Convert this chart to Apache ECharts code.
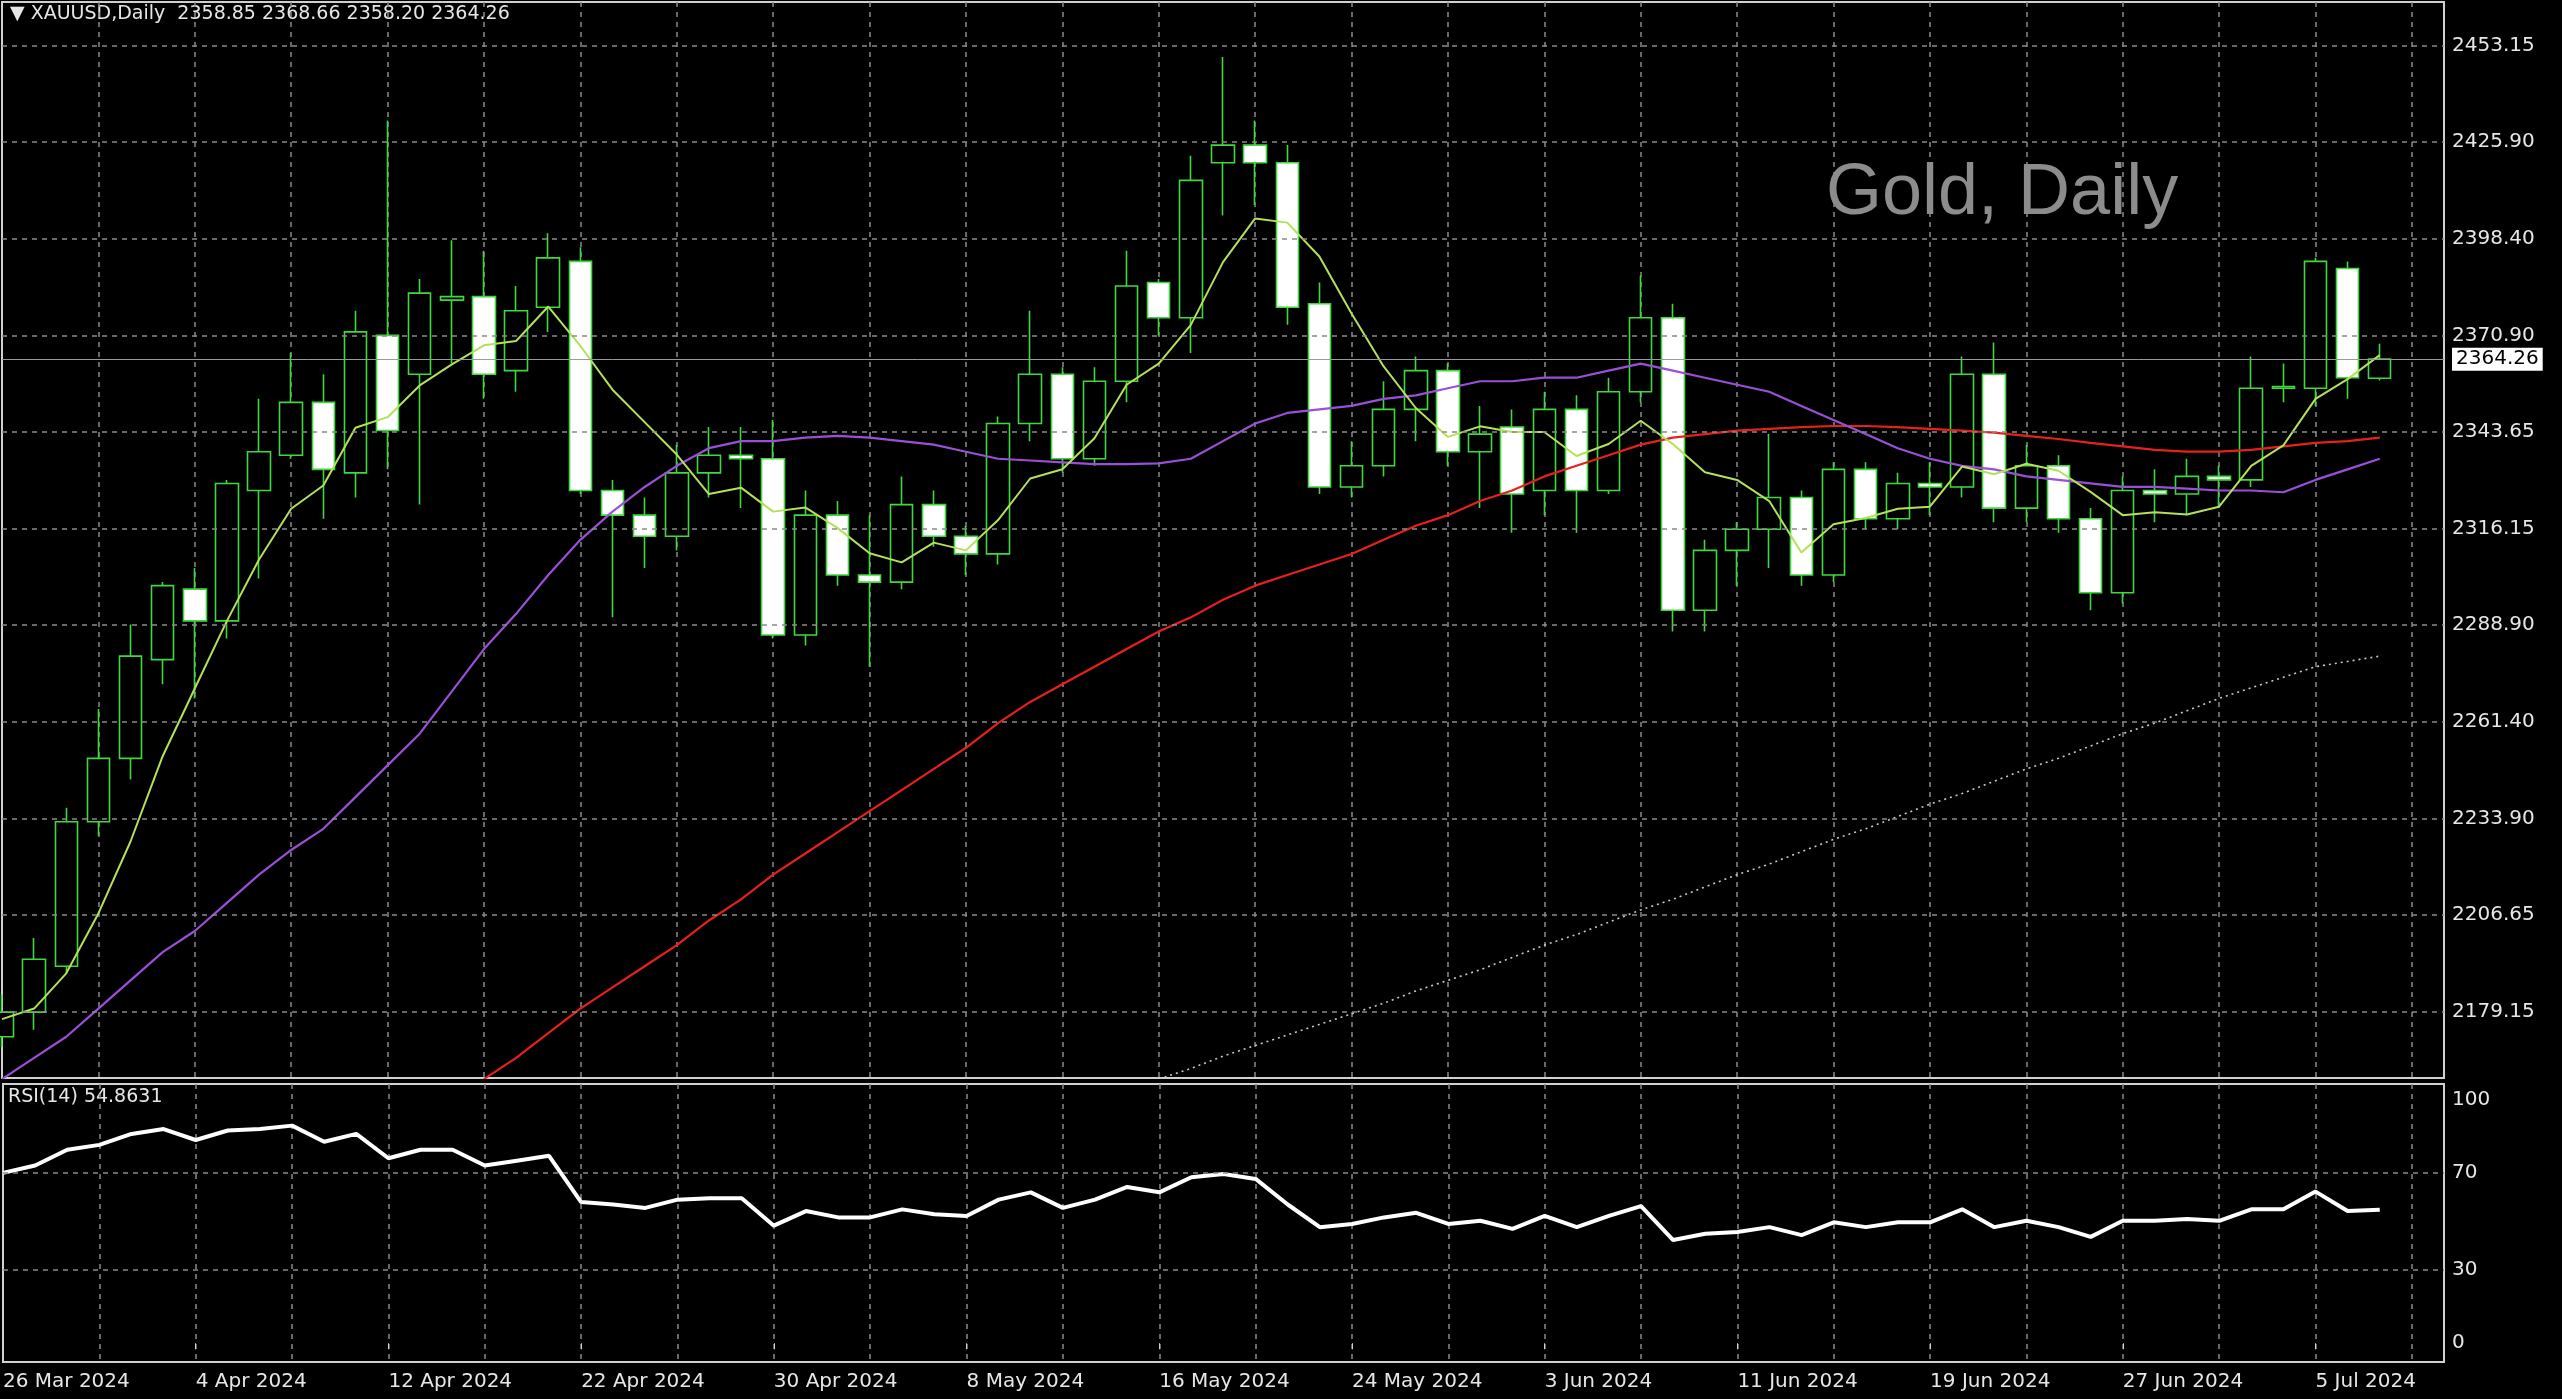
<!DOCTYPE html>
<html>
<head>
<meta charset="utf-8">
<script src="https://cdn.jsdelivr.net/npm/echarts@6/dist/echarts.min.js"></script>
<style>
    * { margin: 0; padding: 0; }
    html, body { background: #000; }
    #main { width: 2562px; height: 1399px; }
</style>
</head>
<body>
<div id="main"></div>
<script>
    // bar dates (daily, weekdays, no Good Friday)
    var dates = [
        '26 Mar 2024', '27 Mar 2024', '28 Mar 2024', '1 Apr 2024', '2 Apr 2024', '3 Apr 2024', '4 Apr 2024', '5 Apr 2024',
        '8 Apr 2024', '9 Apr 2024', '10 Apr 2024', '11 Apr 2024', '12 Apr 2024', '15 Apr 2024', '16 Apr 2024', '17 Apr 2024',
        '18 Apr 2024', '19 Apr 2024', '22 Apr 2024', '23 Apr 2024', '24 Apr 2024', '25 Apr 2024', '26 Apr 2024', '29 Apr 2024',
        '30 Apr 2024', '1 May 2024', '2 May 2024', '3 May 2024', '6 May 2024', '7 May 2024', '8 May 2024', '9 May 2024',
        '10 May 2024', '13 May 2024', '14 May 2024', '15 May 2024', '16 May 2024', '17 May 2024', '20 May 2024', '21 May 2024',
        '22 May 2024', '23 May 2024', '24 May 2024', '27 May 2024', '28 May 2024', '29 May 2024', '30 May 2024', '31 May 2024',
        '3 Jun 2024', '4 Jun 2024', '5 Jun 2024', '6 Jun 2024', '7 Jun 2024', '10 Jun 2024', '11 Jun 2024', '12 Jun 2024',
        '13 Jun 2024', '14 Jun 2024', '17 Jun 2024', '18 Jun 2024', '19 Jun 2024', '20 Jun 2024', '21 Jun 2024', '24 Jun 2024',
        '25 Jun 2024', '26 Jun 2024', '27 Jun 2024', '28 Jun 2024', '1 Jul 2024', '2 Jul 2024', '3 Jul 2024', '4 Jul 2024',
        '5 Jul 2024', '8 Jul 2024', '9 Jul 2024'
    ];
    // empty space at the right side of the chart
    var padBars = ['', ''];

    // [open, close, low, high]
    var ohlc = [
        [2172, 2179, 2169, 2184], [2179, 2194, 2174, 2200], [2192, 2233, 2190, 2237], [2233, 2251, 2229, 2265],
        [2251, 2280, 2245, 2289], [2279, 2300, 2272, 2301], [2299, 2290, 2268, 2305], [2290, 2329, 2285, 2330],
        [2327, 2338, 2302, 2353], [2337, 2352, 2336, 2366], [2352, 2333, 2319, 2360], [2332, 2372, 2325, 2378],
        [2371, 2344, 2333, 2432], [2360, 2383, 2323, 2387], [2381, 2382, 2363, 2398], [2382, 2360, 2353, 2395],
        [2361, 2378, 2355, 2385], [2379, 2393, 2372, 2400], [2392, 2327, 2326, 2396], [2327, 2320, 2291, 2330],
        [2320, 2314, 2305, 2325], [2314, 2332, 2310, 2340], [2332, 2337, 2325, 2345], [2337, 2336, 2322, 2345],
        [2336, 2286, 2285, 2347], [2286, 2320, 2283, 2327], [2320, 2303, 2300, 2324], [2303, 2301, 2277, 2320],
        [2301, 2323, 2299, 2331], [2323, 2314, 2311, 2327], [2314, 2309, 2303, 2317], [2309, 2346, 2306, 2348],
        [2346, 2360, 2341, 2378], [2360, 2336, 2332, 2362], [2336, 2358, 2334, 2362], [2358, 2385, 2352, 2395],
        [2386, 2376, 2371, 2387], [2376, 2415, 2366, 2422], [2420, 2425, 2405, 2450], [2425, 2420, 2408, 2432],
        [2420, 2379, 2374, 2425], [2380, 2328, 2326, 2386], [2328, 2334, 2325, 2341], [2334, 2350, 2331, 2358],
        [2350, 2361, 2341, 2365], [2361, 2338, 2334, 2363], [2338, 2343, 2322, 2351], [2345, 2326, 2315, 2350],
        [2327, 2350, 2320, 2355], [2350, 2327, 2315, 2354], [2327, 2355, 2326, 2359], [2355, 2376, 2352, 2388],
        [2376, 2293, 2287, 2380], [2293, 2310, 2287, 2313], [2310, 2316, 2300, 2318], [2316, 2325, 2305, 2343],
        [2325, 2303, 2300, 2327], [2303, 2333, 2301, 2335], [2333, 2319, 2316, 2335], [2319, 2329, 2316, 2332],
        [2329, 2328, 2320, 2335], [2328, 2360, 2325, 2365], [2360, 2322, 2318, 2369], [2322, 2334, 2318, 2340],
        [2334, 2319, 2315, 2337], [2319, 2298, 2293, 2322], [2298, 2327, 2295, 2331], [2327, 2326, 2318, 2333],
        [2326, 2331, 2320, 2336], [2331, 2330, 2322, 2334], [2330, 2356, 2328, 2365], [2356, 2356.5, 2352, 2363],
        [2356, 2392, 2351, 2393], [2390, 2359, 2353, 2392], [2358.85, 2364.26, 2358.20, 2368.66]
    ];

    // fast MA (yellow-green)
    var maFast = [
        2177, 2180, 2190, 2207, 2227.4, 2251.6, 2270.8, 2290, 2307.4, 2321.8, 2328.4, 2344.8, 2347.8, 2356.8, 2362.8,
        2368.2, 2369.4, 2379.2, 2368, 2355.6, 2346.4, 2337.2, 2326, 2327.8, 2321, 2322.2, 2316.4, 2309.2, 2306.6, 2312.2,
        2310, 2318.6, 2330.4, 2333, 2341.8, 2357, 2363, 2374, 2391.8, 2404.2, 2403, 2393.4, 2377.2, 2362.2, 2350.4,
        2342.2, 2345.2, 2343.6, 2343.6, 2336.8, 2340.2, 2346.8, 2340.2, 2332.2, 2330, 2324, 2309.4, 2317.4, 2319.2,
        2321.8, 2322.4, 2333.8, 2331.6, 2334.6, 2332.6, 2326.6, 2320, 2320.8, 2320.2, 2322.4, 2334, 2339.8, 2353,
        2358.6, 2365.4
    ];
    // middle MA (purple)
    var maMid = [
        2160, 2166, 2172, 2180, 2188, 2196, 2202, 2210, 2218, 2225, 2231, 2240, 2249, 2258, 2270, 2282, 2292, 2303,
        2313, 2321, 2328, 2334, 2339, 2341, 2341, 2342, 2342.5, 2342, 2341, 2340, 2338, 2336, 2335.5, 2335, 2334.5,
        2334.5, 2334.7, 2336, 2341, 2346, 2349, 2350, 2351, 2353, 2354, 2356, 2358, 2358, 2359, 2359, 2361, 2363,
        2361, 2359, 2357, 2355, 2351, 2347, 2343, 2339, 2336, 2334, 2333, 2331, 2330, 2329, 2328, 2328, 2327.5, 2327,
        2327, 2326.5, 2330, 2333, 2336
    ];
    // slow MA (red), starts at bar 15
    var maSlow = [
        '-', '-', '-', '-', '-', '-', '-', '-', '-', '-', '-', '-', '-', '-', '-',
        2160, 2166, 2173, 2180, 2186, 2192, 2198, 2205, 2211, 2218, 2224, 2230, 2236, 2242, 2248, 2254, 2261, 2267,
        2272, 2277, 2282, 2287, 2291, 2296, 2300, 2303, 2306, 2309, 2313, 2317, 2320, 2324, 2327, 2331, 2334, 2337,
        2340, 2342, 2343, 2344, 2344.5, 2345, 2345.3, 2345.3, 2345, 2344.5, 2344, 2343.4, 2342.5, 2341.6, 2340.5,
        2339.5, 2338.5, 2338, 2338, 2338.5, 2339.5, 2340.5, 2341, 2342
    ];
    // long MA (dotted), starts at bar 36
    var maLong = [
        '-', '-', '-', '-', '-', '-', '-', '-', '-', '-', '-', '-', '-', '-', '-', '-', '-', '-',
        '-', '-', '-', '-', '-', '-', '-', '-', '-', '-', '-', '-', '-', '-', '-', '-', '-', '-',
        2160, 2163, 2166.5, 2169.5, 2172.5, 2175.5, 2178.5, 2181.5, 2185, 2188, 2191, 2194.5, 2198, 2201, 2204.5,
        2208, 2211, 2214.5, 2218, 2221, 2224.5, 2228, 2231, 2234.5, 2238, 2241, 2244.5, 2248, 2251, 2254.5, 2258,
        2261, 2264.5, 2268, 2271, 2274, 2277, 2278.5, 2280
    ];
    // RSI(14)
    var rsi = [
        70, 73, 79.5, 81.5, 86, 88, 83.5, 87.4, 88, 89.4, 82.8, 86, 76, 79.5, 79.5, 73, 75, 77, 58, 57, 55.6, 59,
        59.6, 59.6, 48.3, 54.3, 51.7, 51.7, 55, 53, 52.3, 59, 62, 55.6, 59, 64.2, 62, 68.2, 69.5, 67.5, 57, 47.7,
        49, 51.7, 53.6, 49, 50.3, 47, 52.3, 47.7, 52.3, 56.3, 42.4, 45, 45.7, 47.7, 44.4, 49.7, 47.7, 49.7, 49.7,
        55, 47.7, 50.3, 47.7, 43.7, 50.3, 50.3, 51, 50.3, 55, 55, 62.3, 54.3, 54.86
    ];

    var priceTicks = [2179.15, 2206.65, 2233.90, 2261.40, 2288.90, 2316.15, 2343.65, 2370.90, 2398.40, 2425.90, 2453.15];
    var rsiTicks = [100, 70, 30, 0];
    var rsiLevels = [70, 30];
    var lastPrice = 2364.26;

    var cats = dates.concat(padBars);
    var gridColor = '#8a8a8a';
    var textColor = '#e6e6e6';
    var font = 'DejaVu Sans';

    var priceLines = priceTicks.map(function (v) {
        return {yAxis: v, label: {formatter: v.toFixed(2)}};
    });
    priceLines.push({
        yAxis: lastPrice,
        lineStyle: {type: 'solid', color: '#9a9a9a', width: 1},
        label: {formatter: lastPrice.toFixed(2), color: '#000', backgroundColor: '#fff', padding: [2, 4, 1, 4],
            borderColor: '#000', borderWidth: 1}
    });

    var rsiLines = rsiTicks.map(function (v) {
        var item = {yAxis: v, label: {formatter: String(v)}};
        if (rsiLevels.indexOf(v) < 0) item.lineStyle = {color: 'rgba(0,0,0,0)'};
        return item;
    });

    var myChart = echarts.init(document.getElementById('main'));
    var option = {
        backgroundColor: '#000',
        animation: false,
        textStyle: {fontFamily: font},
        grid: [
            {left: 2, top: 2, width: 2442, height: 1076, show: true, borderColor: '#d0d0d0', borderWidth: 2},
            {left: 2, top: 1084, width: 2442, height: 278, show: true, borderColor: '#d0d0d0', borderWidth: 2}
        ],
        xAxis: [
            {
                type: 'category', gridIndex: 0, data: cats, boundaryGap: false,
                axisLine: {show: false}, axisTick: {show: false}, axisLabel: {show: false},
                splitLine: {show: true, interval: function (i) { return i > 0 && i % 3 === 0; },
                    lineStyle: {color: gridColor, type: [5, 5], width: 1.5}}
            },
            {
                type: 'category', gridIndex: 1, data: cats, boundaryGap: false,
                axisLine: {show: false},
                axisTick: {show: true, length: 6, interval: function (i) { return i > 0 && i % 6 === 0; },
                    lineStyle: {color: '#d0d0d0'}},
                axisLabel: {
                    interval: function (i, v) { return i % 6 === 0 && v !== ''; },
                    color: textColor, fontSize: 20, align: 'left', margin: 10, fontFamily: font
                },
                splitLine: {show: true, interval: function (i) { return i > 0 && i % 3 === 0; },
                    lineStyle: {color: gridColor, type: [5, 5], width: 1.5}}
            }
        ],
        yAxis: [
            {type: 'value', gridIndex: 0, position: 'right', min: 2160.3, max: 2465.6, scale: true,
                axisLine: {show: false}, axisTick: {show: false}, axisLabel: {show: false}, splitLine: {show: false}},
            {type: 'value', gridIndex: 1, position: 'right', min: -7.7, max: 106.5,
                axisLine: {show: false}, axisTick: {show: false}, axisLabel: {show: false}, splitLine: {show: false}}
        ],
        graphic: [
            {type: 'text', left: 10, top: 5, style: {text: '\u25BC XAUUSD,Daily  2358.85 2368.66 2358.20 2364.26',
                fill: textColor, font: '19px "DejaVu Sans"'}},
            {type: 'text', left: 1826, top: 158, style: {text: 'Gold, Daily', fill: '#8c8c8c',
                font: '72px "Liberation Sans"'}},
            {type: 'text', left: 8, top: 1088, style: {text: 'RSI(14) 54.8631', fill: textColor,
                font: '19px "DejaVu Sans"'}}
        ],
        series: [
            {
                type: 'candlestick', xAxisIndex: 0, yAxisIndex: 0, data: ohlc, barWidth: 23,
                itemStyle: {color: '#000', color0: '#fff', borderColor: '#3fd83f', borderColor0: '#3fd83f', borderWidth: 1.6},
                markLine: {
                    silent: true, symbol: 'none', animation: false,
                    lineStyle: {color: gridColor, type: [5, 5], width: 1.5},
                    label: {position: 'end', distance: 8, color: textColor, fontSize: 20, fontFamily: font},
                    data: priceLines
                }
            },
            {type: 'line', xAxisIndex: 0, yAxisIndex: 0, data: maLong, symbol: 'none',
                lineStyle: {color: '#c8c8c8', width: 1.6, type: [2, 4]}},
            {type: 'line', xAxisIndex: 0, yAxisIndex: 0, data: maSlow, symbol: 'none',
                lineStyle: {color: '#e8201c', width: 2.2}},
            {type: 'line', xAxisIndex: 0, yAxisIndex: 0, data: maMid, symbol: 'none',
                lineStyle: {color: '#9a4fd8', width: 2.2}},
            {type: 'line', xAxisIndex: 0, yAxisIndex: 0, data: maFast, symbol: 'none',
                lineStyle: {color: '#b4e05a', width: 2}},
            {
                type: 'line', xAxisIndex: 1, yAxisIndex: 1, data: rsi, symbol: 'none',
                lineStyle: {color: '#fff', width: 4},
                markLine: {
                    silent: true, symbol: 'none', animation: false,
                    lineStyle: {color: gridColor, type: [5, 5], width: 1.5},
                    label: {position: 'end', distance: 8, color: textColor, fontSize: 20, fontFamily: font},
                    data: rsiLines
                }
            }
        ]
    };
    myChart.setOption(option);
</script>
</body>
</html>
